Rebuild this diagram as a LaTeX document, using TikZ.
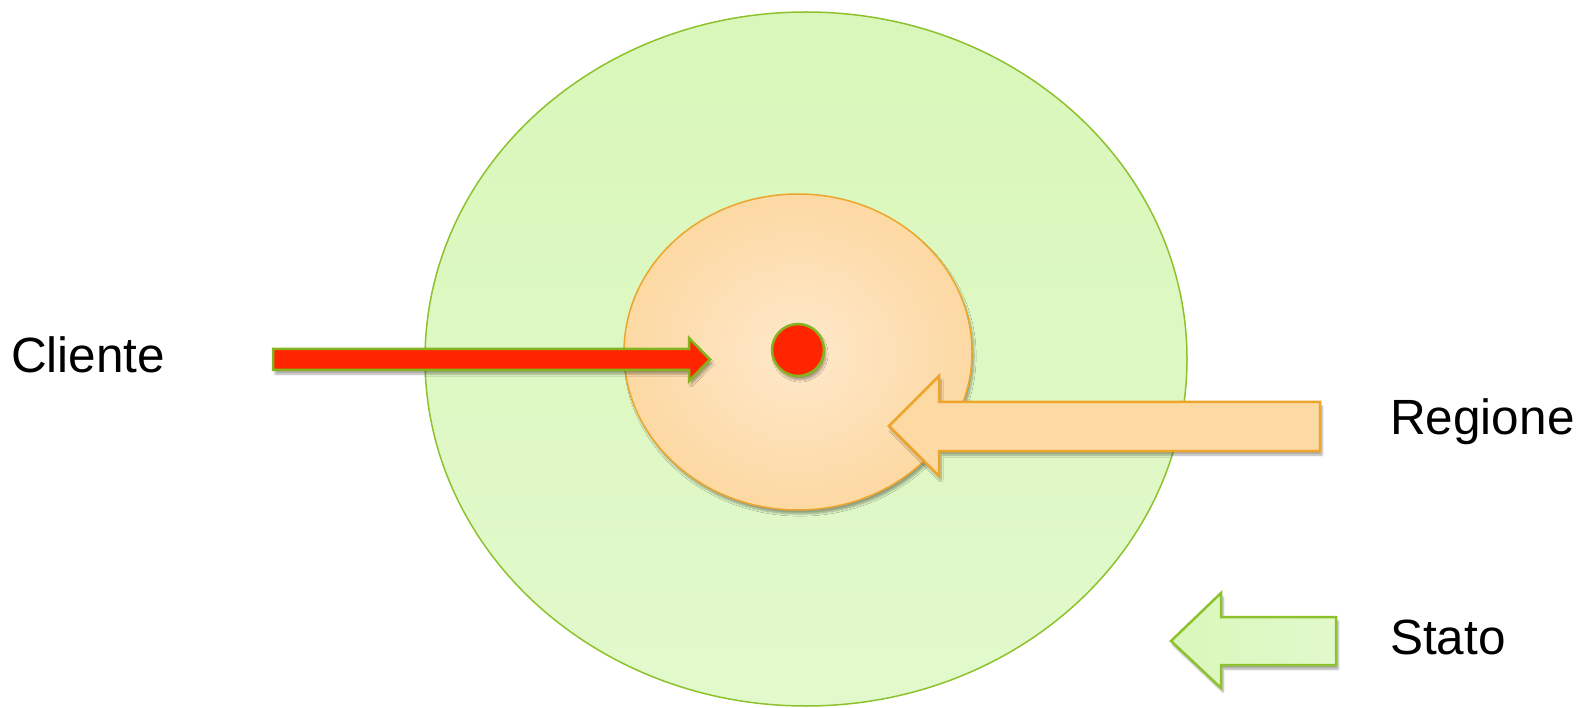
\documentclass[tikz,border=0pt]{standalone}
\usepackage{fontspec}
\setmainfont{Liberation Sans}
\usetikzlibrary{shadows.blur}
\definecolor{gfill}{HTML}{D9F7BA}
\definecolor{gfillL}{HTML}{E2F9CC}
\definecolor{gline}{HTML}{8DC22E}
\definecolor{ofill}{HTML}{FDD9A3}
\definecolor{ofillL}{HTML}{FEE8CB}
\definecolor{oline}{HTML}{EDA52C}
\definecolor{redf}{HTML}{FF2500}
\definecolor{redline}{HTML}{84B41E}
\tikzset{
  shad/.style={blur shadow={shadow xshift=2pt,shadow yshift=-4pt,shadow blur steps=6,shadow opacity=35}},
  bigell/.style={draw=gline,line width=1.5pt,left color=gfill,right color=gfillL,shading angle=0},
  smallell/.style={draw=oline,line width=1.5pt,inner color=ofillL,outer color=ofill},
  redarrow/.style={draw=redline,line width=2.5pt,fill=redf,line join=miter,shad},
  orarrow/.style={draw=oline,line width=2.5pt,left color=ofill,middle color=ofillL,right color=ofill,line join=miter,shad},
  grarrow/.style={draw=gline,line width=2.5pt,left color=gfill,right color=gfillL,line join=miter,shad},
  lbl/.style={font=\fontsize{49.5}{60}\selectfont,inner sep=0pt}
}
\begin{document}
\begin{tikzpicture}[x=1pt,y=-1pt]
\useasboundingbox (0,0) rectangle (1593,708);
% outer ellipse (Stato)
\path[bigell] (806,359) ellipse [x radius=381,y radius=347];
% inner ellipse (Regione)
\path[smallell,shad] (798,352) ellipse [x radius=174,y radius=158];
% red arrow (Cliente)
\path[redarrow] (273,349) -- (689,349) -- (689,338) -- (710,359.5) -- (689,381) -- (689,370) -- (273,370) -- cycle;
% red dot
\path[draw=redline,line width=2.5pt,fill=redf,shad] (798,350) circle [radius=26];
% Regione arrow
\path[orarrow] (1320,402) -- (939,402) -- (939,376) -- (889,426) -- (939,476) -- (939,451) -- (1320,451) -- cycle;
% Stato arrow
\path[grarrow] (1336,617) -- (1221,617) -- (1221,593) -- (1171,641) -- (1221,688) -- (1221,665) -- (1336,665) -- cycle;
% labels
\node[lbl,anchor=west] (cliente) at (11,355) {Cliente};
\node[lbl,anchor=west] (regione) at (1390,422) {Regione};
\node[lbl,anchor=west] (stato) at (1390,637) {Stato};
\end{tikzpicture}
\end{document}
